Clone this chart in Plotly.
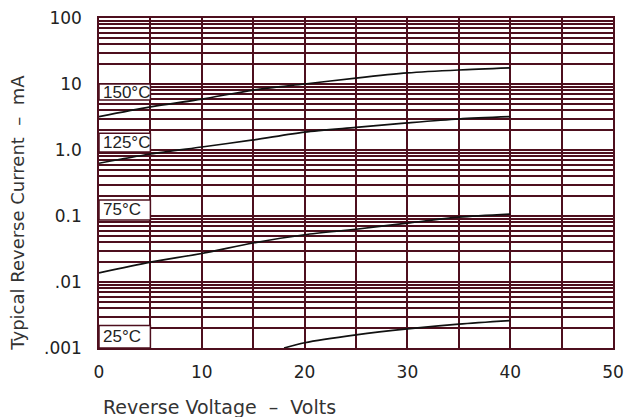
import math
import plotly.graph_objects as go

# Data
voltage = [0, 5, 10, 15, 20, 25, 30, 35, 40]
i_150 = [3.2, 4.5, 5.9, 8.1, 10.0, 12.3, 14.7, 16.3, 17.5]
i_125 = [0.63, 0.87, 1.11, 1.42, 1.87, 2.2, 2.57, 2.95, 3.2]
i_75 = [0.0137, 0.020, 0.027, 0.039, 0.052, 0.063, 0.078, 0.096, 0.107]
voltage_25 = [18, 20, 25, 30, 35, 40]
i_25 = [0.001, 0.0012, 0.00158, 0.00195, 0.0023, 0.0026]

labels = ["150°C", "125°C", "75°C", "25°C"]
# label box extents (y, in mA) along the left column (0-5 V)
label_box_low = [5.7, 0.93, 0.087, 0.001]
label_box_high = [10.0, 1.8, 0.175, 0.0022]

y_tickvals = [0.001, 0.01, 0.1, 1, 10, 100]
y_ticktext = [".001", ".01", "0.1", "1.0", "10", "100"]
x_tickvals = [0, 10, 20, 30, 40, 50]
x_title = "Reverse Voltage  –  Volts"
y_title = "Typical Reverse Current  –  mA"

GRID = "#4e0f1e"
FONT = "DejaVu Sans, Verdana, sans-serif"
LABEL_FONT = "Liberation Sans, Arial, sans-serif"

fig = go.Figure()
for xs, ys in [(voltage, i_150), (voltage, i_125), (voltage, i_75), (voltage_25, i_25)]:
    fig.add_trace(go.Scatter(x=xs, y=ys, mode="lines",
                             line=dict(color="#111111", width=1.7, shape="spline", smoothing=0.8),
                             showlegend=False, hoverinfo="skip"))

for lab, lo, hi in zip(labels, label_box_low, label_box_high):
    fig.add_shape(type="rect", xref="x", yref="y", x0=0, x1=5, y0=lo, y1=hi,
                  fillcolor="white", line=dict(color=GRID, width=1.5), layer="above")
    ymid = (math.log10(lo) + math.log10(hi)) / 2
    fig.add_annotation(x=0.15, y=ymid, xref="x", yref="y", text=lab, xanchor="left",
                       showarrow=False, font=dict(family=LABEL_FONT, size=17, color="#222222"))

# axis titles (placed as in the reference)
fig.add_annotation(text=x_title, xref="paper", yref="paper", x=0.235, y=0,
                   xanchor="center", yanchor="middle", yshift=-59, showarrow=False,
                   font=dict(family=FONT, size=19, color="#333333"))
fig.add_annotation(text=y_title, xref="paper", yref="paper", x=0, y=0.41, textangle=-90,
                   xanchor="center", yanchor="middle", xshift=-81, showarrow=False,
                   font=dict(family=FONT, size=18, color="#333333"))

fig.update_xaxes(range=[0, 50], tickvals=x_tickvals, showgrid=True, gridcolor=GRID, gridwidth=1.5,
                 minor=dict(dtick=5, showgrid=True, gridcolor=GRID, gridwidth=1.5),
                 showline=True, linecolor=GRID, linewidth=1.5, mirror=True, zeroline=False,
                 ticks="", ticklabelstandoff=8, automargin=False, ticklabeloverflow="allow",
                 tickfont=dict(family=FONT, size=17, color="#222222"))
fig.update_yaxes(type="log", range=[-3, 2], tickvals=y_tickvals, ticktext=y_ticktext,
                 showgrid=True, gridcolor=GRID, gridwidth=1.5,
                 minor=dict(dtick="D1", showgrid=True, gridcolor=GRID, gridwidth=1.5),
                 showline=True, linecolor=GRID, linewidth=1.5, mirror=True, zeroline=False,
                 ticks="", ticklabelstandoff=12, automargin=False, ticklabeloverflow="allow",
                 tickfont=dict(family=FONT, size=17, color="#222222"))

fig.update_layout(width=629, height=417, margin=dict(l=99, r=16, t=18, b=69),
                  paper_bgcolor="white", plot_bgcolor="white")

# remove the browser's default body margin so the figure fills the window exactly
fig.write_html("out.html", config={"displayModeBar": False},
               post_script="document.body.style.margin='0';document.body.style.overflow='hidden';")
